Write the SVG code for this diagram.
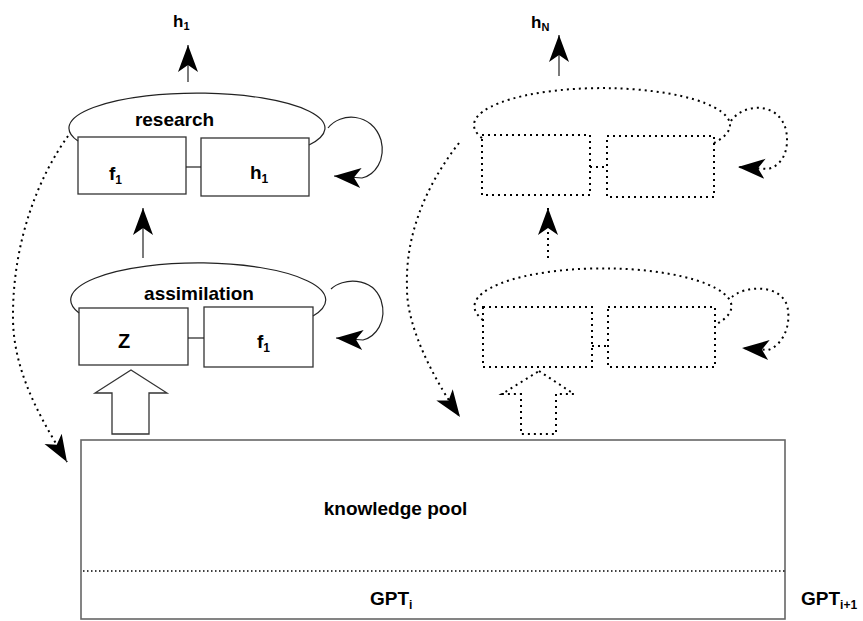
<svg xmlns="http://www.w3.org/2000/svg" width="863" height="621" viewBox="0 0 863 621">
<style>
  .box{fill:none;stroke:#333;stroke-width:1.3}
  .dbox{fill:none;stroke:#000;stroke-width:2;stroke-dasharray:2 4}
  .ln{fill:none;stroke:#222;stroke-width:1.2}
  .dln{fill:none;stroke:#000;stroke-width:2;stroke-dasharray:2 4}
  .pool{fill:none;stroke:#666;stroke-width:1.6}
  .fine{fill:none;stroke:#000;stroke-width:1.5;stroke-dasharray:1.5 2.5}
  text{font-family:"Liberation Sans",Arial,sans-serif;font-weight:bold;fill:#000}
  .t{font-size:19px}
  .s{font-size:12px}
</style>
<defs>
  <marker id="ah" markerUnits="userSpaceOnUse" markerWidth="30" markerHeight="24" viewBox="0 -12 30 24" refX="27" refY="0" orient="auto">
    <path d="M27,0 L0,-10 L7,0 L0,10 Z" fill="#000"/>
  </marker>
</defs>
<rect width="863" height="621" fill="#fff"/>

<g id="research">
  <path class="ln" d="M78,141 A128,35 0 1 1 309,145"/>
  <rect class="box" x="78" y="137" width="108" height="57"/>
  <rect class="box" x="201" y="138" width="108" height="58"/>
  <line class="ln" x1="186" y1="167" x2="201" y2="167"/>
  <text class="t" x="174.5" y="126" text-anchor="middle">research</text>
  <text class="t" x="109" y="180">f<tspan class="s" dy="4">1</tspan></text>
  <text class="t" x="250" y="179">h<tspan class="s" dy="4">1</tspan></text>
</g>

<g id="assimilation">
  <path class="ln" d="M79,313 A127.5,37 0 1 1 313,316"/>
  <rect class="box" x="79" y="308" width="109" height="57"/>
  <rect class="box" x="204" y="307" width="109" height="60"/>
  <line class="ln" x1="188" y1="338" x2="204" y2="338"/>
  <text class="t" x="199" y="300" text-anchor="middle">assimilation</text>
  <text x="118" y="348" font-size="20">Z</text>
  <text class="t" x="257" y="348">f<tspan class="s" dy="4">1</tspan></text>
</g>

<g id="research-n">
  <path class="dln" d="M482,138 A128,37 0 1 1 714,143"/>
  <rect class="dbox" x="482" y="135" width="108" height="60"/>
  <rect class="dbox" x="607" y="136" width="107" height="61"/>
  <line class="dln" x1="590" y1="167" x2="607" y2="167"/>
</g>

<g id="assimilation-n">
  <path class="dln" d="M483,320 A128.5,38 0 1 1 715,325"/>
  <rect class="dbox" x="483" y="307" width="109" height="60"/>
  <rect class="dbox" x="608" y="307" width="107" height="60"/>
  <line class="dln" x1="592" y1="346" x2="608" y2="346"/>
</g>

<g id="knowledge-pool">
  <rect class="pool" x="81" y="440" width="704" height="179"/>
  <line class="fine" x1="83" y1="571" x2="787" y2="571"/>
  <text class="t" x="395.5" y="515" text-anchor="middle">knowledge pool</text>
  <text x="370" y="605" font-size="19">GPT<tspan class="s" dy="4">i</tspan></text>
</g>

<g id="labels">
  <text x="173" y="27" font-size="17">h<tspan font-size="11" dy="3">1</tspan></text>
  <text x="531" y="28" font-size="17">h<tspan font-size="11" dy="3">N</tspan></text>
  <text x="801" y="605" font-size="19">GPT<tspan class="s" dy="4">i+1</tspan></text>
</g>

<g id="connectors">
  <!-- output arrows -->
  <path class="ln" d="M188,82 L188,45" marker-end="url(#ah)"/>
  <path class="ln" d="M559,76 L559,35" marker-end="url(#ah)"/>
  <!-- assimilation -> research -->
  <path class="ln" d="M143,258 L143,208" marker-end="url(#ah)"/>
  <path class="dln" d="M548,258 L548,208" marker-end="url(#ah)"/>
  <!-- self loops -->
  <path class="ln" d="M328,128 C340,112 372,112 381,140 C386,160 375,175 362,178 L334,176" marker-end="url(#ah)"/>
  <path class="ln" d="M331,289 C342,278 372,276 381,300 C388,322 375,337 363,340 L336,338" marker-end="url(#ah)"/>
  <path class="dln" d="M731,121 C742,104 778,100 786,130 C790,150 782,166 768,169 L738,167" marker-end="url(#ah)"/>
  <path class="dln" d="M732,297 C742,287 778,282 787,305 C792,325 783,345 768,350 L742,348" marker-end="url(#ah)"/>
  <!-- feedback to knowledge pool -->
  <path class="dln" d="M68,136 C40,175 12,240 13,320 C14,375 43,422 67,462" marker-end="url(#ah)"/>
  <path class="dln" d="M459,143 C430,180 405,230 407,287 C406,330 439,387 460,417" marker-end="url(#ah)"/>
  <!-- block arrows from knowledge pool -->
  <polygon class="box" points="131,370 167,393 149,393 149,434 112,434 112,393 95,393"/>
  <polygon class="dbox" points="539,371 574,394 556,394 556,434 521,434 521,394 502,394"/>
</g>
</svg>
